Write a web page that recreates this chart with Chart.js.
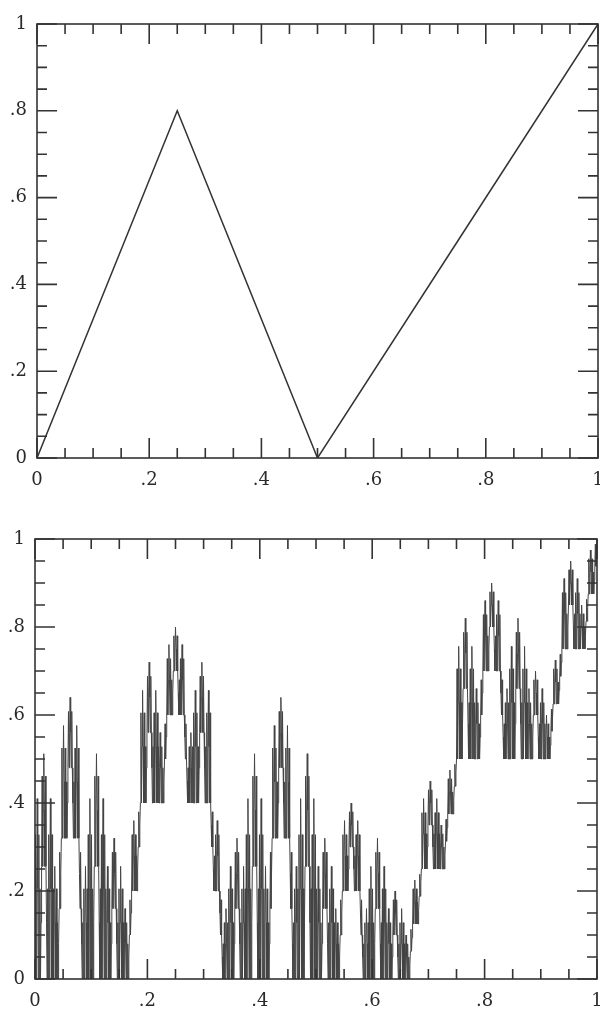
<!DOCTYPE html>
<html>
<head>
<meta charset="utf-8">
<script src="https://cdn.jsdelivr.net/npm/chart.js@4"></script>
<style>
  html, body { margin: 0; padding: 0; background: #fff; }
  #wrap { position: relative; width: 600px; height: 1010px; overflow: hidden; }
  canvas { position: absolute; left: 0; }
  #top-chart { top: 0; }
  #bottom-chart { top: 505px; }
</style>
</head>
<body>
<div id="wrap">
  <canvas id="top-chart" width="600" height="505"></canvas>
  <canvas id="bottom-chart" width="600" height="505"></canvas>
</div>
<script>
// axis ticks (same on both panels, both axes)
const majorTicks = [0, 0.2, 0.4, 0.6, 0.8, 1];
const tickLabels = ['0', '.2', '.4', '.6', '.8', '1'];
const minorTicks = [0.05, 0.1, 0.15, 0.25, 0.3, 0.35, 0.45, 0.5, 0.55, 0.65, 0.7, 0.75, 0.85, 0.9, 0.95];

// top panel: the broken line
const topX = [0, 0.25, 0.5, 0.75, 1];
const topY = [0, 0.8, 0, 0.5, 1];

// bottom panel: values read at evenly spaced x from 0 to 1 (1025 samples)
const bottomY = [
  // 0 .. 0.25
  0, .328, 0, .205, .41, .205, 0, .328, 0, .205, 0, .128, .256, .461, .256, .384, .512,
  .384, .256, .461, .256, .128, 0, .205, 0, .328, 0, .205, .41, .205, 0, .328, 0,
  .205, 0, .128, .256, .128, 0, .205, 0, .128, 0, .08, .16, .288, .16, .24, .32,
  .525, .32, .448, .576, .448, .32, .525, .32, .448, .32, .4, .48, .608, .48, .56, .64,
  .56, .48, .608, .48, .4, .32, .448, .32, .525, .32, .448, .576, .448, .32, .525, .32,
  .24, .16, .288, .16, .08, 0, .128, 0, .205, 0, .128, .256, .128, 0, .205, 0,
  .328, 0, .205, .41, .205, 0, .328, 0, .205, 0, .128, .256, .461, .256, .384, .512,
  .384, .256, .461, .256, .128, 0, .205, 0, .328, 0, .205, .41, .205, 0, .328, 0,
  .205, 0, .128, .256, .128, 0, .205, 0, .128, 0, .08, .16, .288, .16, .24, .32,
  .24, .16, .288, .16, .08, 0, .128, 0, .205, 0, .128, .256, .128, 0, .205, 0,
  .128, 0, .08, .16, .08, 0, .128, 0, .08, 0, .05, .1, .18, .1, .15, .2,
  .328, .2, .28, .36, .28, .2, .328, .2, .28, .2, .25, .3, .38, .3, .35, .4,
  .605, .4, .528, .656, .528, .4, .605, .4, .528, .4, .48, .56, .688, .56, .64, .72,
  .64, .56, .688, .56, .48, .4, .528, .4, .605, .4, .528, .656, .528, .4, .605, .4,
  .528, .4, .48, .56, .48, .4, .528, .4, .48, .4, .45, .5, .58, .5, .55, .6,
  .728, .6, .68, .76, .68, .6, .728, .6, .68, .6, .65, .7, .78, .7, .75, .8,
  // 0.25 .. 0.5
  .75, .7, .78, .7, .65, .6, .68, .6, .728, .6, .68, .76, .68, .6, .728,
  .6, .55, .5, .58, .5, .45, .4, .48, .4, .528, .4, .48, .56, .48, .4, .528,
  .4, .605, .4, .528, .656, .528, .4, .605, .4, .528, .4, .48, .56, .688, .56, .64,
  .72, .64, .56, .688, .56, .48, .4, .528, .4, .605, .4, .528, .656, .528, .4, .605,
  .4, .35, .3, .38, .3, .25, .2, .28, .2, .328, .2, .28, .36, .28, .2, .328,
  .2, .15, .1, .18, .1, .05, 0, .08, 0, .128, 0, .08, .16, .08, 0, .128,
  0, .205, 0, .128, .256, .128, 0, .205, 0, .128, 0, .08, .16, .288, .16, .24,
  .32, .24, .16, .288, .16, .08, 0, .128, 0, .205, 0, .128, .256, .128, 0, .205,
  0, .328, 0, .205, .41, .205, 0, .328, 0, .205, 0, .128, .256, .461, .256, .384,
  .512, .384, .256, .461, .256, .128, 0, .205, 0, .328, 0, .205, .41, .205, 0, .328,
  0, .205, 0, .128, .256, .128, 0, .205, 0, .128, 0, .08, .16, .288, .16, .24,
  .32, .525, .32, .448, .576, .448, .32, .525, .32, .448, .32, .4, .48, .608, .48, .56,
  .64, .56, .48, .608, .48, .4, .32, .448, .32, .525, .32, .448, .576, .448, .32, .525,
  .32, .24, .16, .288, .16, .08, 0, .128, 0, .205, 0, .128, .256, .128, 0, .205,
  0, .328, 0, .205, .41, .205, 0, .328, 0, .205, 0, .128, .256, .461, .256, .384,
  .512, .384, .256, .461, .256, .128, 0, .205, 0, .328, 0, .205, .41, .205, 0, .328, 0,
  // 0.5 .. 0.75
  .205, 0, .128, .256, .128, 0, .205, 0, .128, 0, .08, .16, .288, .16, .24, .32,
  .24, .16, .288, .16, .08, 0, .128, 0, .205, 0, .128, .256, .128, 0, .205, 0,
  .128, 0, .08, .16, .08, 0, .128, 0, .08, 0, .05, .1, .18, .1, .15, .2,
  .328, .2, .28, .36, .28, .2, .328, .2, .28, .2, .25, .3, .38, .3, .35, .4,
  .35, .3, .38, .3, .25, .2, .28, .2, .328, .2, .28, .36, .28, .2, .328, .2,
  .15, .1, .18, .1, .05, 0, .08, 0, .128, 0, .08, .16, .08, 0, .128, 0,
  .205, 0, .128, .256, .128, 0, .205, 0, .128, 0, .08, .16, .288, .16, .24, .32,
  .24, .16, .288, .16, .08, 0, .128, 0, .205, 0, .128, .256, .128, 0, .205, 0,
  .128, 0, .08, .16, .08, 0, .128, 0, .08, 0, .05, .1, .18, .1, .15, .2,
  .15, .1, .18, .1, .05, 0, .08, 0, .128, 0, .08, .16, .08, 0, .128, 0,
  .08, 0, .05, .1, .05, 0, .08, 0, .05, 0, .031, .063, .113, .063, .094, .125,
  .205, .125, .175, .225, .175, .125, .205, .125, .175, .125, .156, .188, .238, .188, .219, .25,
  .378, .25, .33, .41, .33, .25, .378, .25, .33, .25, .3, .35, .43, .35, .4, .45,
  .4, .35, .43, .35, .3, .25, .33, .25, .378, .25, .33, .41, .33, .25, .378, .25,
  .33, .25, .3, .35, .3, .25, .33, .25, .3, .25, .281, .313, .363, .313, .344, .375,
  .455, .375, .425, .475, .425, .375, .455, .375, .425, .375, .406, .438, .488, .438, .469, .5,
  // 0.75 .. 1
  .705, .5, .628, .756, .628, .5, .705, .5, .628, .5, .58, .66, .788, .66, .74, .82,
  .74, .66, .788, .66, .58, .5, .628, .5, .705, .5, .628, .756, .628, .5, .705, .5,
  .628, .5, .58, .66, .58, .5, .628, .5, .58, .5, .55, .6, .68, .6, .65, .7,
  .828, .7, .78, .86, .78, .7, .828, .7, .78, .7, .75, .8, .88, .8, .85, .9,
  .85, .8, .88, .8, .75, .7, .78, .7, .828, .7, .78, .86, .78, .7, .828, .7,
  .65, .6, .68, .6, .55, .5, .58, .5, .628, .5, .58, .66, .58, .5, .628, .5,
  .705, .5, .628, .756, .628, .5, .705, .5, .628, .5, .58, .66, .788, .66, .74, .82,
  .74, .66, .788, .66, .58, .5, .628, .5, .705, .5, .628, .756, .628, .5, .705, .5,
  .628, .5, .58, .66, .58, .5, .628, .5, .58, .5, .55, .6, .68, .6, .65, .7,
  .65, .6, .68, .6, .55, .5, .58, .5, .628, .5, .58, .66, .58, .5, .628, .5,
  .58, .5, .55, .6, .55, .5, .58, .5, .55, .5, .531, .563, .613, .563, .594, .625,
  .705, .625, .675, .725, .675, .625, .705, .625, .675, .625, .656, .688, .738, .688, .719, .75,
  .878, .75, .83, .91, .83, .75, .878, .75, .83, .75, .8, .85, .93, .85, .9, .95,
  .9, .85, .93, .85, .8, .75, .83, .75, .878, .75, .83, .91, .83, .75, .878, .75,
  .83, .75, .8, .85, .8, .75, .83, .75, .8, .75, .781, .813, .863, .813, .844, .875,
  .955, .875, .925, .975, .925, .875, .955, .875, .925, .875, .906, .938, .988, .938, .969, 1
];

const ink = '#333333';

const frameTicks = {
  id: 'frameTicks',
  afterDraw(chart) {
    const { ctx, chartArea: a, scales: { x, y } } = chart;
    ctx.save();
    ctx.strokeStyle = ink;
    ctx.lineWidth = 1.6;
    ctx.strokeRect(a.left, a.top, a.right - a.left, a.bottom - a.top);

    const mark = (v, len) => {
      const px = x.getPixelForValue(v);
      const py = y.getPixelForValue(v);
      ctx.moveTo(px, a.bottom); ctx.lineTo(px, a.bottom - len);
      ctx.moveTo(px, a.top); ctx.lineTo(px, a.top + len);
      ctx.moveTo(a.left, py); ctx.lineTo(a.left + len, py);
      ctx.moveTo(a.right, py); ctx.lineTo(a.right - len, py);
    };
    ctx.beginPath();
    majorTicks.forEach(v => mark(v, 20));
    minorTicks.forEach(v => mark(v, 10));
    ctx.stroke();

    ctx.fillStyle = '#2a2a2a';
    ctx.font = '18px "DejaVu Serif"';
    ctx.textBaseline = 'middle';
    ctx.textAlign = 'right';
    majorTicks.forEach((v, i) => ctx.fillText(tickLabels[i], a.left - 10, y.getPixelForValue(v)));
    ctx.textAlign = 'center';
    majorTicks.forEach((v, i) => ctx.fillText(tickLabels[i], x.getPixelForValue(v), a.bottom + 22));
    ctx.restore();
  }
};

function makeChart(id, points, padding, width, color) {
  return new Chart(document.getElementById(id), {
    type: 'line',
    data: {
      datasets: [{
        data: points,
        borderColor: color,
        borderWidth: width,
        pointRadius: 0,
        tension: 0,
        fill: false
      }]
    },
    options: {
      responsive: false,
      animation: false,
      layout: { padding },
      plugins: { legend: { display: false }, tooltip: { enabled: false } },
      scales: {
        x: { type: 'linear', min: 0, max: 1, display: false },
        y: { type: 'linear', min: 0, max: 1, display: false }
      }
    },
    plugins: [frameTicks]
  });
}

const topPoints = topX.map((x, i) => ({ x, y: topY[i] }));
const step = 1 / (bottomY.length - 1);
const bottomPoints = bottomY.map((y, i) => ({ x: i * step, y }));

makeChart('top-chart', topPoints, { left: 37, top: 24, right: 2, bottom: 47 }, 1.5, ink);
makeChart('bottom-chart', bottomPoints, { left: 35, top: 34, right: 3, bottom: 31 }, 1, '#444444');
</script>
</body>
</html>
